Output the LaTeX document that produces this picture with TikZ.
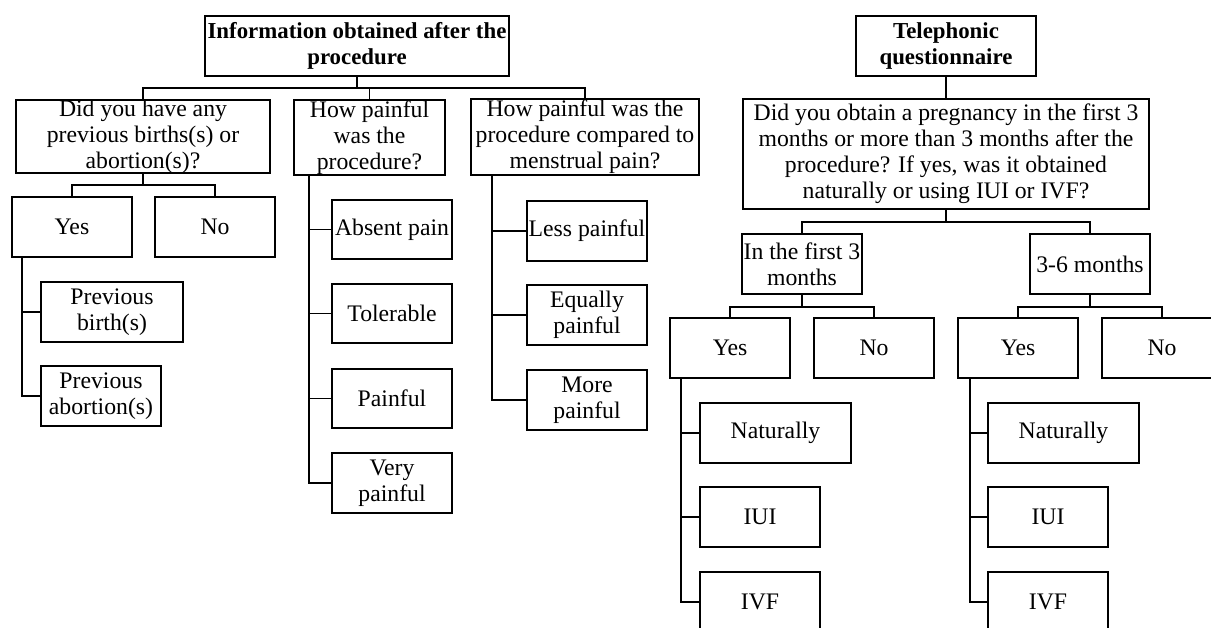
\documentclass[tikz,border=0pt]{standalone}
\usepackage{fontspec}
\setmainfont{Liberation Serif}
\begin{document}
\begin{tikzpicture}[x=0.02cm,y=-0.02cm,
    box/.style={draw,line width=1pt,align=center,inner sep=0pt,
      minimum width=2.4cm,minimum height=1.2cm,font=\fontsize{13.5}{14.8}\selectfont},
    head/.style={box,font=\bfseries\fontsize{13}{14.8}\selectfont},
    link/.style={line width=1pt}]
  \useasboundingbox (0,0) rectangle (1211,628);
  \clip (0,0) rectangle (1211,628);
  % information after the procedure
  \node[head,minimum width=6.08cm] (info) at (357,46) {Information obtained after the\\procedure};
  \node[box,minimum width=5.08cm,minimum height=1.46cm] (q1) at (143,136.5) {Did you have any\\previous births(s) or\\abortion(s)?};
  \node[box,minimum width=3.02cm,minimum height=1.5cm] (q2) at (369.5,137.5) {How painful\\was the\\procedure?};
  \node[box,minimum width=4.56cm,minimum height=1.52cm] (q3) at (585,137) {How painful was the\\procedure compared to\\menstrual pain?};
  \node[box] (yes) at (72,227) {Yes};
  \node[box] (no) at (215,227) {No};
  \node[box,minimum width=2.84cm] (pb) at (112,312) {Previous\\birth(s)};
  \node[box] (pa) at (101,396) {Previous\\abortion(s)};
  \node[box,minimum height=1.18cm] (absent) at (392,229.5) {Absent pain};
  \node[box,minimum height=1.18cm] (tol) at (392,313.5) {Tolerable};
  \node[box,minimum height=1.18cm] (painful) at (392,398.5) {Painful};
  \node[box] (very) at (392,483) {Very\\painful};
  \node[box] (less) at (587,231) {Less painful};
  \node[box] (equal) at (587,315) {Equally\\painful};
  \node[box] (more) at (587,400) {More\\painful};
  \draw[link] (info.south) -- ++(0,11) -| (q1.north);
  \draw[link] (info.south) -- ++(0,11) -| (q2.north);
  \draw[link] (info.south) -- ++(0,11) -| (q3.north);
  \draw[link] (q1.south) -- ++(0,11) -| (yes.north);
  \draw[link] (q1.south) -- ++(0,11) -| (no.north);
  \draw[link] ([xshift=0.22cm]yes.south west) |- (pb.west);
  \draw[link] ([xshift=0.22cm]yes.south west) |- (pa.west);
  \foreach \k in {absent,tol,painful,very}
    \draw[link] ([xshift=0.32cm]q2.south west) |- (\k.west);
  \foreach \k in {less,equal,more}
    \draw[link] ([xshift=0.44cm]q3.south west) |- (\k.west);
  % telephonic questionnaire
  \node[head,minimum width=3.6cm] (tel) at (946,46) {Telephonic\\questionnaire};
  \node[box,minimum width=8.12cm,minimum height=2.2cm] (q4) at (946,154) {Did you obtain a pregnancy in the first 3\\months or more than 3 months after the\\procedure? If yes, was it obtained\\naturally or using IUI or IVF?};
  \node[box] (first) at (802,264) {In the first 3\\months};
  \node[box] (later) at (1090,264) {3-6 months};
  \node[box] (yesa) at (730,348) {Yes};
  \node[box] (noa) at (874,348) {No};
  \node[box] (yesb) at (1018,348) {Yes};
  \node[box] (nob) at (1162,348) {No};
  \node[box,minimum width=3.02cm] (nata) at (775.5,433) {Naturally};
  \node[box] (iuia) at (760,517) {IUI};
  \node[box] (ivfa) at (760,602) {IVF};
  \node[box,minimum width=3.02cm] (natb) at (1063.5,433) {Naturally};
  \node[box] (iuib) at (1048,517) {IUI};
  \node[box] (ivfb) at (1048,602) {IVF};
  \draw[link] (tel.south) -- (q4.north);
  \draw[link] (q4.south) -- ++(0,12) -| (first.north);
  \draw[link] (q4.south) -- ++(0,12) -| (later.north);
  \draw[link] (first.south) -- ++(0,12) -| (yesa.north);
  \draw[link] (first.south) -- ++(0,12) -| (noa.north);
  \draw[link] (later.south) -- ++(0,12) -| (yesb.north);
  \draw[link] (later.south) -- ++(0,12) -| (nob.north);
  \foreach \k in {nata,iuia,ivfa}
    \draw[link] ([xshift=0.24cm]yesa.south west) |- (\k.west);
  \foreach \k in {natb,iuib,ivfb}
    \draw[link] ([xshift=0.26cm]yesb.south west) |- (\k.west);
\end{tikzpicture}
\end{document}
